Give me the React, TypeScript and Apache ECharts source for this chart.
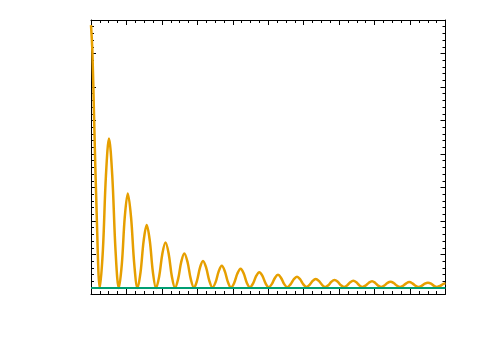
import React, { useEffect, useRef } from "react";
import * as echarts from "echarts";

// x positions of the orange curve (zeros, flanks and peaks of each lobe)
const curveX = [
  0, 0.04, 0.085, 0.161, 0.248,
  0.335, 0.421, 0.508, 0.6, 0.692, 0.784,
  0.869, 0.953, 1.038, 1.129, 1.221, 1.312,
  1.398, 1.485, 1.571, 1.659, 1.746, 1.834,
  1.923, 2.013, 2.102, 2.191, 2.281, 2.37,
  2.457, 2.545, 2.632, 2.723, 2.815, 2.906,
  2.99, 3.075, 3.159, 3.248, 3.338, 3.427,
  3.515, 3.602, 3.69, 3.776, 3.863, 3.949,
  4.039, 4.13, 4.22, 4.308, 4.397, 4.485,
  4.573, 4.66, 4.748, 4.836, 4.925, 5.013,
  5.1, 5.188, 5.275, 5.362, 5.45, 5.537,
  5.628, 5.72, 5.811, 5.9, 5.99, 6.079,
  6.166, 6.252, 6.339, 6.429, 6.519, 6.609,
  6.696, 6.782, 6.869, 6.958, 7.048, 7.137,
  7.224, 7.312, 7.399, 7.486, 7.572, 7.659,
  7.748, 7.838, 7.927, 8.012, 8.096, 8.181,
  8.27, 8.36, 8.449, 8.538, 8.628, 8.717,
  8.804, 8.892, 8.979, 9.065, 9.152, 9.238,
  9.327, 9.417, 9.506, 9.591, 9.675, 9.76,
  9.85, 9.94, 10.0,
];
// y values of the orange curve at those positions
const curveY = [
  0.981, 0.88, 0.646, 0.272, 0,
  0.14, 0.419, 0.558, 0.419, 0.14, 0,
  0.088, 0.265, 0.353, 0.265, 0.088, 0,
  0.059, 0.176, 0.235, 0.176, 0.059, 0,
  0.043, 0.128, 0.17, 0.128, 0.043, 0.001,
  0.033, 0.097, 0.129, 0.097, 0.033, 0.001,
  0.027, 0.076, 0.101, 0.076, 0.027, 0.002,
  0.022, 0.062, 0.083, 0.062, 0.022, 0.002,
  0.019, 0.054, 0.072, 0.054, 0.019, 0.003,
  0.017, 0.045, 0.059, 0.045, 0.017, 0.003,
  0.0145, 0.0375, 0.049, 0.0375, 0.0145, 0.003,
  0.0135, 0.0325, 0.042, 0.0325, 0.0135, 0.004,
  0.0115, 0.0265, 0.034, 0.0265, 0.0115, 0.004,
  0.0105, 0.0235, 0.03, 0.0235, 0.0105, 0.004,
  0.0097, 0.0213, 0.027, 0.0213, 0.0097, 0.004,
  0.0093, 0.0198, 0.025, 0.0198, 0.0093, 0.004,
  0.0089, 0.0186, 0.0235, 0.0186, 0.0089, 0.004,
  0.0085, 0.0175, 0.022, 0.0175, 0.0085, 0.004,
  0.008, 0.0165, 0.02, 0.0165, 0.008, 0.004,
  0.0078, 0.0153, 0.018,
];
// green baseline
const baseX = [0, 10];
const baseY = [0, 0];

const X_MIN = 0;
const X_MAX = 10;
const Y_MIN = -0.0224;
const Y_MAX = 1;

export default function App() {
  const ref = useRef<HTMLDivElement>(null);
  useEffect(() => {
    if (!ref.current) return;
    const chart = echarts.init(ref.current, null, { renderer: "svg" });
    const axisColor = "#000";
    const hiddenLabel = { show: false };
    const frameX = (pos: "top" | "bottom") => ({
      type: "value",
      gridIndex: 0,
      position: pos,
      min: X_MIN,
      max: X_MAX,
      interval: 1,
      axisLine: { show: true, onZero: false, lineStyle: { color: axisColor, width: 1 } },
      axisTick: { show: true, inside: true, length: 5, lineStyle: { color: axisColor } },
      minorTick: { show: true, splitNumber: 4, length: 3, lineStyle: { color: axisColor } },
      axisLabel: hiddenLabel,
      splitLine: { show: false },
    });
    const frameY = (pos: "left" | "right") => ({
      type: "value",
      gridIndex: 0,
      position: pos,
      min: Y_MIN,
      max: Y_MAX,
      axisLine: { show: true, onZero: false, lineStyle: { color: axisColor, width: 1 } },
      axisTick: { show: false },
      axisLabel: hiddenLabel,
      splitLine: { show: false },
    });
    const tickY = (pos: "left" | "right") => ({
      type: "value",
      gridIndex: 1,
      position: pos,
      min: 0,
      max: 1,
      interval: 0.125,
      axisLine: { show: false, onZero: false },
      axisTick: { show: true, inside: true, length: 5, lineStyle: { color: axisColor } },
      minorTick: { show: true, splitNumber: 5, length: 3, lineStyle: { color: axisColor } },
      axisLabel: hiddenLabel,
      splitLine: { show: false },
    });
    chart.setOption({
      animation: false,
      backgroundColor: "#fff",
      grid: [
        { left: 91, top: 20, width: 354.5, height: 274 },
        { left: 91, top: 20, width: 354.5, height: 268 },
      ],
      xAxis: [
        frameX("bottom"),
        frameX("top"),
        { type: "value", gridIndex: 1, min: 0, max: 10, show: false },
      ],
      yAxis: [frameY("left"), frameY("right"), tickY("left"), tickY("right")],
      series: [
        {
          type: "line",
          xAxisIndex: 0,
          yAxisIndex: 0,
          data: curveX.map((x, i) => [x, curveY[i]]),
          smooth: 0.35,
          showSymbol: false,
          lineStyle: { color: "#e69f00", width: 2.5 },
          z: 2,
        },
        {
          type: "line",
          xAxisIndex: 0,
          yAxisIndex: 0,
          data: baseX.map((x, i) => [x, baseY[i]]),
          showSymbol: false,
          lineStyle: { color: "#009e73", width: 2 },
          z: 3,
        },
      ],
    });
    return () => chart.dispose();
  }, []);
  return (
    <div
      ref={ref}
      style={{ position: "fixed", left: 0, top: 0, width: 485, height: 363, background: "#fff" }}
    />
  );
}
